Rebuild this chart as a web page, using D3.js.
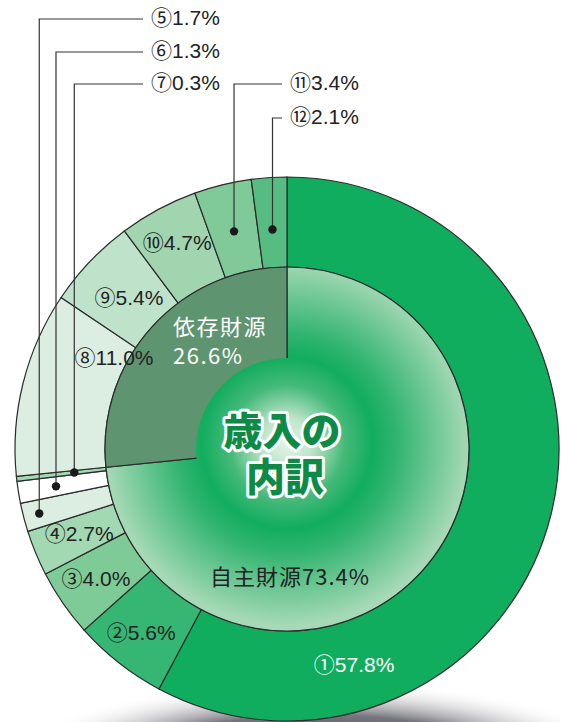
<!DOCTYPE html>
<html>
<head>
<meta charset="utf-8">
<script src="https://cdn.jsdelivr.net/npm/d3@7"></script>
<style>
  body { margin: 0; background: #fff; }
  svg { display: block; }
</style>
</head>
<body>
<div id="root"></div>
<script>
// 歳入の内訳 data
var outerMarks = ['①', '②', '③', '④', '⑤', '⑥', '⑦', '⑧', '⑨', '⑩', '⑪', '⑫'];
var outerValues = [57.8, 5.6, 4.0, 2.7, 1.7, 1.3, 0.3, 11.0, 5.4, 4.7, 3.4, 2.1];
var innerCategories = ['自主財源', '依存財源'];
var innerValues = [73.4, 26.6];
var titleLines = ['歳入の', '内訳'];

var width = 561, height = 722;
var cx = 287, cy = 449;
var outerR = 272, innerR = 182, coreR = 91;

var outerColors = ['#10ad5f', '#35b673', '#7fcb98', '#a2d8b2', '#dcede2', '#ffffff',
  '#a2d8b2', '#dcede2', '#bfe2ca', '#a0d5b0', '#80ca99', '#57bc81'];

var svg = d3.select('#root')
  .append('svg')
    .attr('width', width)
    .attr('height', height);

var defs = svg.append('defs');

// soft shadow under the ring
var shadow = defs.append('radialGradient').attr('id', 'shadow');
shadow.append('stop').attr('offset', '0%').attr('stop-color', '#2a2a32');
shadow.append('stop').attr('offset', '65%').attr('stop-color', '#75757e');
shadow.append('stop').attr('offset', '100%').attr('stop-color', '#ffffff').attr('stop-opacity', 0);

// gradient lives in the translated group's space, so centre is 0,0
var glow = defs.append('radialGradient')
  .attr('id', 'glow')
  .attr('gradientUnits', 'userSpaceOnUse')
  .attr('cx', 0).attr('cy', -6).attr('r', innerR);
[['0%', '#e4f3e8'], ['14%', '#bfe4cb'], ['32%', '#44b978'], ['47%', '#12ad5f'],
 ['60%', '#30b46f'], ['100%', '#a6d9b6']].forEach(s => {
  glow.append('stop').attr('offset', s[0]).attr('stop-color', s[1]);
});

svg.append('ellipse')
  .attr('cx', 320).attr('cy', 780)
  .attr('rx', 330).attr('ry', 100)
  .attr('fill', 'url(#shadow)');

var g = svg.append('g').attr('transform', `translate(${cx},${cy})`);

var pie = d3.pie().sort(null).value(d => d.value);

var outerData = pie(outerValues.map((v, i) => ({ mark: outerMarks[i], value: v })));
var innerData = pie(innerValues.map((v, i) => ({ name: innerCategories[i], value: v })));

var outerArc = d3.arc().innerRadius(innerR).outerRadius(outerR);
var innerArc = d3.arc().innerRadius(0).outerRadius(innerR);

g.selectAll('path.outer')
  .data(outerData)
  .enter()
  .append('path')
    .attr('class', 'outer')
    .attr('d', outerArc)
    .attr('fill', (d, i) => outerColors[i])
    .attr('stroke', '#2b2b2b')
    .attr('stroke-width', 1.2);

g.selectAll('path.inner')
  .data(innerData)
  .enter()
  .append('path')
    .attr('class', 'inner')
    .attr('d', innerArc)
    .attr('fill', (d, i) => i === 0 ? 'url(#glow)' : '#5e9470')
    .attr('stroke', '#2b2b2b')
    .attr('stroke-width', 1.2);

// glowing core over both sectors
g.append('circle')
  .attr('r', coreR)
  .attr('fill', 'url(#glow)');

// polar helper: angle clockwise from top
var polar = (a, r) => [r * Math.sin(a), -r * Math.cos(a)];
var deg = a => a * Math.PI / 180;

var numFont = 'Liberation Sans, Arial, sans-serif';
var markFont = 'Noto Sans CJK JP, sans-serif';

function label(sel, mark, value, color) {
  var t = sel.append('text')
    .attr('fill', color)
    .attr('dy', '0.36em');
  t.append('tspan')
    .attr('font-family', markFont)
    .attr('font-size', 21)
    .text(mark);
  t.append('tspan')
    .attr('font-family', numFont)
    .attr('font-size', 21)
    .text(value.toFixed(1) + '%');
  return t;
}

// labels placed inside the ring
var inside = { 0: [162.8, 227], 1: [null, 236], 2: [null, 232], 3: [null, 225],
  7: [297.5, 195], 8: [null, 218], 9: [null, 232] };
Object.keys(inside).forEach(k => {
  var d = outerData[k];
  var a = inside[k][0] !== null ? deg(inside[k][0]) : (d.startAngle + d.endAngle) / 2;
  var p = polar(a, inside[k][1]);
  label(g, d.data.mark, d.data.value, k == 0 ? '#ffffff' : '#222222')
    .attr('x', p[0]).attr('y', p[1])
    .attr('text-anchor', 'middle');
});

// labels with leader lines
var leaders = [
  { i: 4, r: 256, y: 19, end: 143 },
  { i: 5, r: 234, y: 52, end: 143 },
  { i: 6, r: 214, y: 84, end: 143 },
  { i: 10, r: 224, y: 84, end: 282 },
  { i: 11, r: 220, y: 118, end: 282 }
];
leaders.forEach(l => {
  var d = outerData[l.i];
  var p = polar((d.startAngle + d.endAngle) / 2, l.r);
  var x = cx + p[0], y = cy + p[1];
  svg.append('path')
    .attr('d', `M${x},${y}V${l.y}H${l.end}`)
    .attr('fill', 'none')
    .attr('stroke', '#333')
    .attr('stroke-width', 1.2);
  svg.append('circle')
    .attr('cx', x).attr('cy', y).attr('r', 4.2)
    .attr('fill', '#1a1a1a');
  label(svg, d.data.mark, d.data.value, '#222222')
    .attr('x', l.end + 8).attr('y', l.y);
});

// inner pie captions
var dep = svg.append('g')
  .attr('font-family', markFont)
  .attr('font-size', 22)
  .attr('fill', '#ffffff')
  .attr('letter-spacing', 1.5);
dep.append('text').attr('x', 173).attr('y', 335).text(innerCategories[1]);
dep.append('text').attr('x', 173).attr('y', 364).text(innerValues[1].toFixed(1) + '%');

svg.append('text')
  .attr('x', cx + 3).attr('y', 585)
  .attr('text-anchor', 'middle')
  .attr('font-family', markFont)
  .attr('font-size', 22)
  .attr('letter-spacing', 1)
  .attr('fill', '#222222')
  .text(innerCategories[0] + innerValues[0].toFixed(1) + '%');

// center title
svg.selectAll('text.title')
  .data(titleLines)
  .enter()
  .append('text')
    .attr('class', 'title')
    .attr('x', (d, i) => cx - 5 + i * 3)
    .attr('y', (d, i) => 445 + i * 46)
    .attr('text-anchor', 'middle')
    .attr('font-family', markFont)
    .attr('font-weight', 900)
    .attr('font-size', 39)
    .attr('fill', '#0c8a46')
    .attr('stroke', '#ffffff')
    .attr('stroke-width', 6)
    .attr('stroke-linejoin', 'round')
    .attr('paint-order', 'stroke')
    .text(d => d);
</script>
</body>
</html>
